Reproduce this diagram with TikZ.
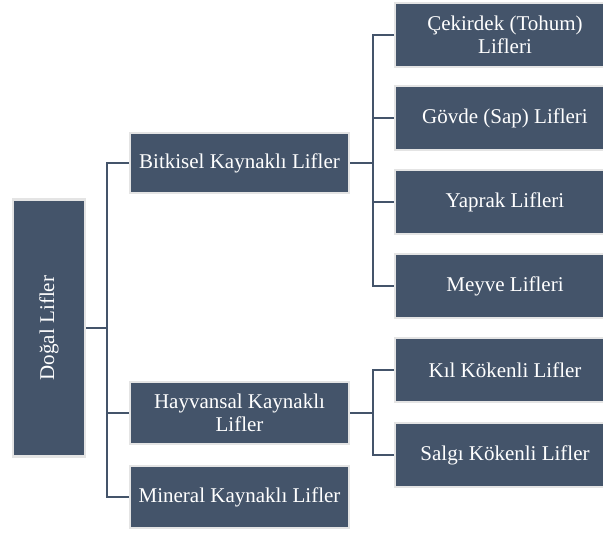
\documentclass[tikz,border=0pt]{standalone}
\usepackage{fontspec}
\setmainfont{Liberation Serif}
\usetikzlibrary{positioning}
\definecolor{slateblue}{HTML}{44546A}
\definecolor{edgegray}{HTML}{E4E4E4}
\tikzset{
  fiberbox/.style={draw=edgegray, line width=2.5pt, fill=slateblue, text=white,
    align=center, font=\fontsize{21}{23}\selectfont, inner sep=2pt},
  midbox/.style={fiberbox, minimum width=219pt, minimum height=62pt},
  leafbox/.style={fiberbox, minimum width=220pt, minimum height=64pt},
  link/.style={draw=slateblue, line width=2pt}
}
\begin{document}
\begin{tikzpicture}[x=1pt,y=-1pt]
        \useasboundingbox (0,0) rectangle (603,533);
        % root
        \node[fiberbox, rotate=90, minimum width=257pt, minimum height=72pt] (root) at (49,328) {Doğal Lifler};
        % middle level
        \node[midbox, minimum height=60pt] (bitki) at (239.5,163) {Bitkisel Kaynaklı Lifler};
        \node[midbox] (hayvan) at (239.5,413) {Hayvansal Kaynaklı\\Lifler};
        \node[midbox] (mineral) at (239.5,497) {Mineral Kaynaklı Lifler};
        % leaves (cut off at the right edge)
        \node[leafbox] (cekirdek) at (505,35) {Çekirdek (Tohum)\\Lifleri};
        \node[leafbox] (govde) at (505,118) {Gövde (Sap) Lifleri};
        \node[leafbox] (yaprak) at (505,202) {Yaprak Lifleri};
        \node[leafbox] (meyve) at (505,286) {Meyve Lifleri};
        \node[leafbox] (kil) at (505,370) {Kıl Kökenli Lifler};
        \node[leafbox] (salgi) at (505,455) {Salgı Kökenli Lifler};
        % connectors
        \coordinate (trunk) at (107,0);
        \coordinate (fork) at (373,0);
        \draw[link] (root.south) -- (root.south -| trunk);
        \draw[link] (bitki.west) -- (bitki.west -| trunk) -- (mineral.west -| trunk) -- (mineral.west);
        \draw[link] (hayvan.west) -- (hayvan.west -| trunk);
        \draw[link] (bitki.east) -- (bitki.east -| fork);
        \draw[link] (cekirdek.west) -- (cekirdek.west -| fork) -- (meyve.west -| fork) -- (meyve.west);
        \draw[link] (govde.west) -- (govde.west -| fork);
        \draw[link] (yaprak.west) -- (yaprak.west -| fork);
        \draw[link] (hayvan.east) -- (hayvan.east -| fork);
        \draw[link] (kil.west) -- (kil.west -| fork) -- (salgi.west -| fork) -- (salgi.west);
\end{tikzpicture}
\end{document}
